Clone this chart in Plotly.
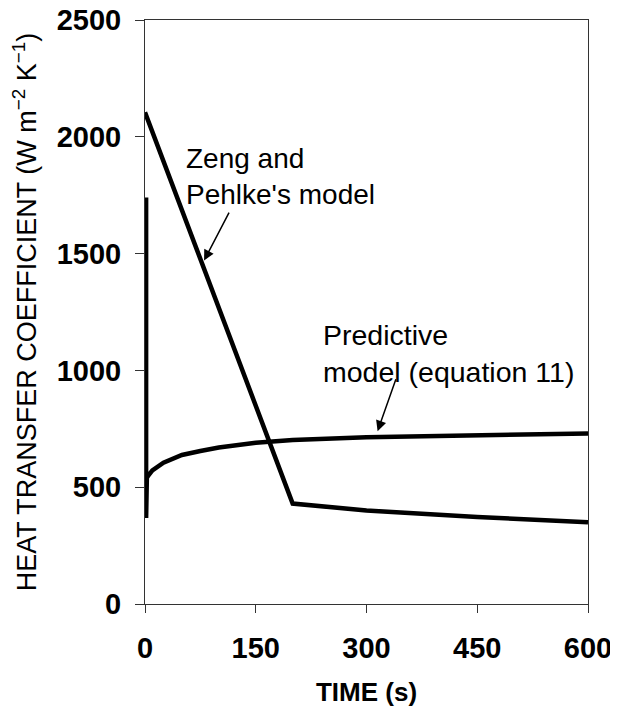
import plotly.graph_objects as go

# Zeng and Pehlke's model
zeng_t = [0, 200, 300, 450, 600]
zeng_h = [2105, 430, 400, 372, 350]

# Predictive model (equation 11)
pred_t = [1.5, 1.5, 2.5, 5, 10, 25, 50, 75, 100, 150, 200, 300, 450, 600]
pred_h = [1740, 368, 540, 552, 572, 605, 638, 655, 670, 690, 702, 714, 724, 730]

x_ticks = [0, 150, 300, 450, 600]
y_ticks = [0, 500, 1000, 1500, 2000, 2500]

FONT = "Liberation Sans, Arial, sans-serif"

fig = go.Figure()
fig.add_trace(go.Scatter(x=zeng_t, y=zeng_h, mode="lines",
                         line=dict(color="black", width=4.5), showlegend=False))
fig.add_trace(go.Scatter(x=pred_t, y=pred_h, mode="lines",
                         line=dict(color="black", width=4.5), showlegend=False))

fig.add_annotation(x=53, y=1832, xref="x", yref="y", text="Zeng and<br>Pehlke's model",
                   showarrow=False, xanchor="left", yanchor="middle", align="left",
                   font=dict(family=FONT, size=28, color="black"))
fig.add_annotation(x=80, y=1470, ax=26, ay=-50, xref="x", yref="y",
                   text=" ", showarrow=True, arrowhead=2, arrowsize=1.4, arrowwidth=1.5,
                   arrowcolor="black", font=dict(size=1))
fig.add_annotation(x=238, y=1074, xref="x", yref="y", text="Predictive<br>model (equation 11)",
                   showarrow=False, xanchor="left", yanchor="middle", align="left",
                   font=dict(family=FONT, size=28.5, color="black"))
fig.add_annotation(x=315, y=740, ax=19, ay=-54, xref="x", yref="y",
                   text=" ", showarrow=True, arrowhead=2, arrowsize=1.4, arrowwidth=1.5,
                   arrowcolor="black", font=dict(size=1))

fig.update_xaxes(range=[0, 600], tickvals=x_ticks, ticks="outside", ticklen=8,
                 tickcolor="#333", showline=True, linecolor="#333", linewidth=1, mirror=True,
                 showgrid=False, zeroline=False, automargin=False,
                 ticklabeloverflow="allow", ticklabelstandoff=10,
                 tickfont=dict(family=FONT, size=29, color="black", weight="bold"),
                 title=dict(text="<b>TIME (s)</b>", font=dict(family=FONT, size=26, color="black"),
                            standoff=20))
fig.update_yaxes(range=[0, 2500], tickvals=y_ticks, ticks="outside", ticklen=9,
                 tickcolor="#333", showline=True, linecolor="#333", linewidth=1, mirror=True,
                 showgrid=False, zeroline=False, automargin=False,
                 ticklabeloverflow="allow", ticklabelstandoff=8,
                 tickfont=dict(family=FONT, size=29, color="black", weight="bold"),
                 title=dict(text="HEAT TRANSFER COEFFICIENT (W m<sup>−2</sup> K<sup>−1</sup>)",
                            font=dict(family=FONT, size=27, color="black"), standoff=21))

fig.update_layout(width=610, height=709, margin=dict(l=137, r=30, t=12, b=113),
                  plot_bgcolor="white", paper_bgcolor="white")

fig.write_html("out.html")
